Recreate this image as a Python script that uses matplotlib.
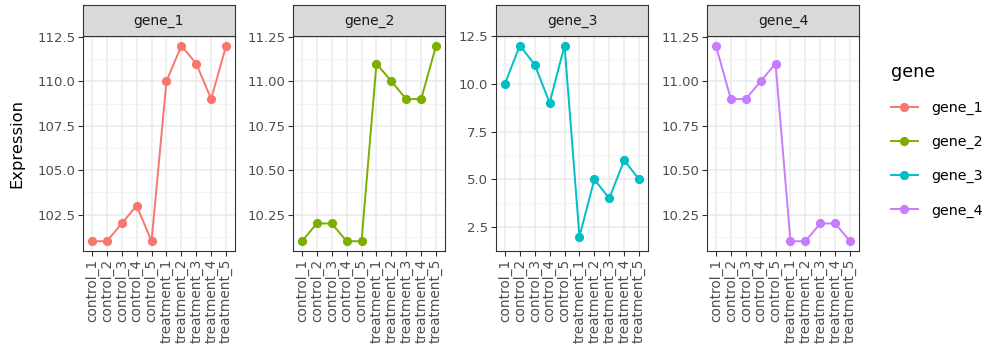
import numpy as np
import matplotlib.pyplot as plt
from matplotlib.lines import Line2D

# sample names along the x axis
samples = ["control_1", "control_2", "control_3", "control_4", "control_5",
           "treatment_1", "treatment_2", "treatment_3", "treatment_4", "treatment_5"]

genes = ["gene_1", "gene_2", "gene_3", "gene_4"]
gene_1 = [101, 101, 102, 103, 101, 110, 112, 111, 109, 112]
gene_2 = [10.1, 10.2, 10.2, 10.1, 10.1, 11.1, 11.0, 10.9, 10.9, 11.2]
gene_3 = [10, 12, 11, 9, 12, 2, 5, 4, 6, 5]
gene_4 = [11.2, 10.9, 10.9, 11.0, 11.1, 10.1, 10.1, 10.2, 10.2, 10.1]
values = [gene_1, gene_2, gene_3, gene_4]

colors = ["#F8766D", "#7CAE00", "#00BFC4", "#C77CFF"]
yticks = [[102.5, 105.0, 107.5, 110.0, 112.5],
          [10.25, 10.50, 10.75, 11.00, 11.25],
          [2.5, 5.0, 7.5, 10.0, 12.5],
          [10.25, 10.50, 10.75, 11.00, 11.25]]
ytick_fmt = ["{:.1f}", "{:.2f}", "{:.1f}", "{:.2f}"]

plt.rcParams['font.family'] = ['DejaVu Sans']

W, H = 988, 347
fig = plt.figure(figsize=(W / 100, H / 100), dpi=100)

lefts = [83, 293, 496, 707]
pw = 152
ptop, pbot = 36, 251
strip_top = 5

x = np.arange(len(samples))
for i, g in enumerate(genes):
    ax = fig.add_axes([lefts[i] / W, 1 - pbot / H, pw / W, (pbot - ptop) / H])
    y = values[i]
    ax.plot(x, y, color=colors[i], lw=1.4, marker="o", markersize=5.6, zorder=3)

    lo, hi = min(y), max(y)
    pad = (hi - lo) * 0.05
    ax.set_ylim(lo - pad, hi + pad)
    ax.set_xlim(-0.6, len(samples) - 0.4)

    yt = yticks[i]
    ax.set_yticks(yt)
    ax.set_yticklabels([ytick_fmt[i].format(v) for v in yt])
    minors = [yt[0] - (yt[1] - yt[0]) / 2] + [(a + b) / 2 for a, b in zip(yt[:-1], yt[1:])]
    ax.set_yticks(minors, minor=True)
    ax.set_xticks(x)
    ax.set_xticklabels(samples, rotation=90)

    ax.grid(True, which="major", color="#EBEBEB", lw=1.1, zorder=0)
    ax.grid(True, which="minor", axis="y", color="#F2F2F2", lw=0.6, zorder=0)
    ax.set_axisbelow(True)
    ax.tick_params(which="minor", length=0)
    ax.tick_params(which="major", length=3.5, width=0.8, color="#333333",
                   labelcolor="#4D4D4D", labelsize=9.5, pad=2)
    ax.tick_params(axis="x", labelsize=9.8)
    for s in ax.spines.values():
        s.set_color("#333333")
        s.set_linewidth(0.8)

    # facet strip
    sax = fig.add_axes([lefts[i] / W, 1 - ptop / H, pw / W, (ptop - strip_top) / H])
    sax.set_facecolor("#D9D9D9")
    sax.set_xticks([])
    sax.set_yticks([])
    for s in sax.spines.values():
        s.set_color("#333333")
        s.set_linewidth(0.8)
    sax.text(0.5, 0.5, g, ha="center", va="center", fontsize=10,
             color="#1A1A1A", transform=sax.transAxes)

    if i == 0:
        ax.set_ylabel("Expression", fontsize=11.8, color="black", labelpad=9)

handles = [Line2D([], [], color=c, lw=1.4, marker="o", markersize=5.6) for c in colors]
leg = fig.legend(handles, genes, title="gene", loc="upper left",
                 bbox_to_anchor=(878 / W, 1 - 50 / H), frameon=False,
                 fontsize=10.3, title_fontsize=12.6, handlelength=1.9,
                 handletextpad=0.9, labelspacing=1.4, alignment="left")

fig.savefig("out.png", dpi=100)
